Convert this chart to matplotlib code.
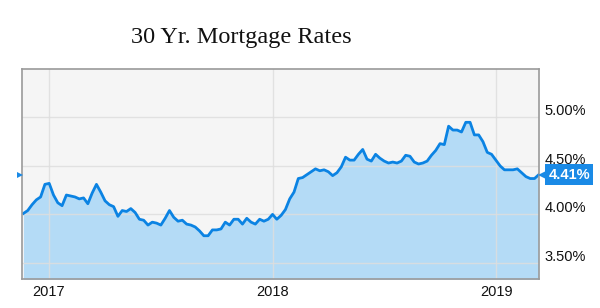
import matplotlib
matplotlib.use("Agg")
import matplotlib.pyplot as plt
from matplotlib.transforms import ScaledTranslation
import pandas as pd

# ---- data ----
start_date = "2016-11-21"
rates = [
    4.01, 4.04, 4.10, 4.15, 4.18, 4.31, 4.32, 4.20, 4.12, 4.09,
    4.20, 4.19, 4.18, 4.16, 4.17, 4.11, 4.22, 4.31, 4.23, 4.14,
    4.10, 4.08, 3.98, 4.04, 4.03, 4.06, 4.02, 3.95, 3.94, 3.89,
    3.92, 3.91, 3.89, 3.96, 4.04, 3.97, 3.93, 3.94, 3.90, 3.89,
    3.87, 3.83, 3.78, 3.78, 3.84, 3.84, 3.85, 3.92, 3.89, 3.95,
    3.95, 3.90, 3.96, 3.92, 3.90, 3.95, 3.93, 3.95, 4.00, 3.95,
    3.99, 4.05, 4.16, 4.23, 4.37, 4.38, 4.41, 4.44, 4.47, 4.45,
    4.46, 4.44, 4.40, 4.43, 4.49, 4.59, 4.56, 4.56, 4.62, 4.67,
    4.57, 4.55, 4.62, 4.58, 4.55, 4.53, 4.54, 4.53, 4.55, 4.61,
    4.60, 4.54, 4.52, 4.53, 4.55, 4.61, 4.66, 4.73, 4.72, 4.91,
    4.87, 4.87, 4.85, 4.95, 4.95, 4.82, 4.82, 4.75, 4.64, 4.62,
    4.56, 4.50, 4.46, 4.46, 4.46, 4.47, 4.43, 4.39, 4.37, 4.37,
    4.41,
]
dates = pd.date_range(start=start_date, periods=len(rates), freq="7D")
y_ticks = [3.50, 4.00, 4.50, 5.00]
y_tick_labels = ["3.50%", "4.00%", "4.50%", "5.00%"]
x_ticks = ["2017-01-01", "2018-01-01", "2019-01-01"]
x_tick_labels = ["2017", "2018", "2019"]
title = "30 Yr. Mortgage Rates"
last_label = "4.41%"

# ---- style ----
LINE = "#0b83e3"
FILL = "#b4dbf6"
BG = "#f5f5f5"
GRID = "#dedede"

fig = plt.figure(figsize=(6.0, 3.08), dpi=100)
ax = fig.add_axes([0.036, 0.093, 0.862, 0.683])
ax.set_facecolor(BG)

bottom = 3.33
ax.fill_between(dates, rates, bottom, color=FILL, lw=0, zorder=1)
ax.plot(dates, rates, color=LINE, lw=2.0, zorder=3, solid_joinstyle="round")

ax.set_ylim(bottom, 5.5)
ax.set_xlim(pd.Timestamp("2016-11-18"), dates[-1])

ax.set_yticks(y_ticks)
ax.set_yticklabels(y_tick_labels)
ax.set_xticks(pd.to_datetime(x_ticks))
ax.set_xticklabels(x_tick_labels)

ax.yaxis.tick_right()
ax.tick_params(axis="y", length=0, pad=4, labelsize=10.5, labelcolor="#111111")
ax.tick_params(axis="x", length=0, pad=4, labelsize=10.5, labelcolor="#111111")
for lab in ax.get_yticklabels():
    lab.set_fontfamily("Liberation Sans")
    lab.set_va("baseline")
    lab.set_transform(lab.get_transform() + ScaledTranslation(0, 1.5 / 72, fig.dpi_scale_trans))
for lab in ax.get_xticklabels():
    lab.set_fontfamily("Liberation Sans")

ax.grid(True, color=GRID, lw=1.0, alpha=0.85, zorder=2)
ax.set_axisbelow(False)
for line in ax.get_xgridlines() + ax.get_ygridlines():
    line.set_zorder(2)

for sp in ax.spines.values():
    sp.set_color("#9a9a9a")
    sp.set_linewidth(1.2)
    sp.set_zorder(4)

# last value tag
ax.plot([dates[-1]], [rates[-1]], marker="<", ms=9, color="#1a8ae6",
        clip_on=False, zorder=6, markeredgewidth=0,
        transform=ax.transData + ScaledTranslation(4 / 72, 0, fig.dpi_scale_trans))
ax.annotate(last_label, xy=(dates[-1], rates[-1]), xytext=(7, 0),
            textcoords="offset points", ha="left", va="center",
            color="white", fontweight="bold", fontsize=10.5, family="Liberation Sans",
            bbox=dict(boxstyle="square,pad=0.22", fc="#1a8ae6", ec="none"),
            annotation_clip=False, zorder=7)

# small left marker
ax.plot([ax.get_xlim()[0]], [rates[-1]], marker=">", ms=4, color="#1a8ae6",
        clip_on=False, zorder=6, markeredgewidth=0,
        transform=ax.transData + ScaledTranslation(-1 / 72, 0, fig.dpi_scale_trans))

fig.text(0.402, 0.859, title, ha="center", va="baseline",
         family="Liberation Serif", fontsize=17.5, color="#111111")

fig.savefig("out.png", dpi=100)
